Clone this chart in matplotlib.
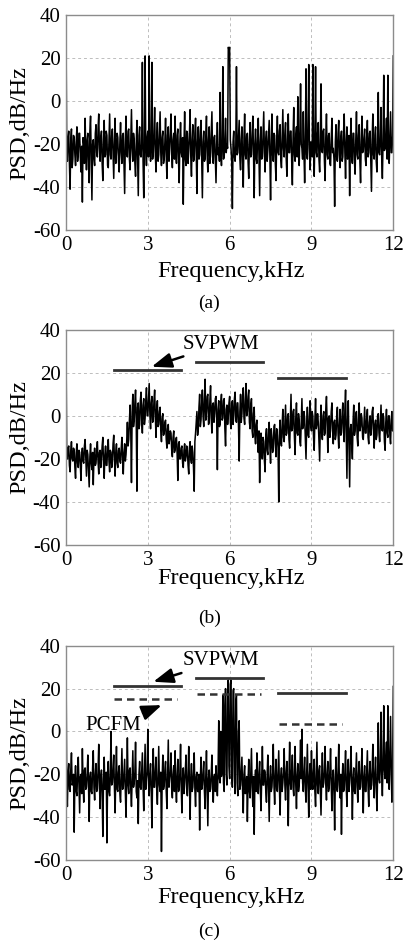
import numpy as np
import matplotlib
matplotlib.use("Agg")
import matplotlib.pyplot as plt

plt.rcParams['font.family'] = ['Liberation Serif', 'DejaVu Serif']
plt.rcParams['axes.unicode_minus'] = False

# Frequency span (kHz); samples are evenly spaced (0.025 kHz)
f_start, f_stop = 0.0, 12.0
xticks = [0, 3, 6, 9, 12]
yticks = [-60, -40, -20, 0, 20, 40]

# (a) PSD values, dB/Hz (one row per kHz)
psd_a = [
    35, -22, -28, -17, -14, -29, -41, -18, -13, -31, -27, -16, -17, -25, -30, -19, -12, -28, -24, -15, -15, -26, -33, -21, -47, -17, -20, -29, -8, -23, -32, -18, -15, -30, -38, -14, -7, -27, -46, -20,
    -18, -27, -30, -15, -11, -24, -26, -13, -6, -22, -28, -17, -14, -29, -37, -19, -9, -26, -25, -14, -16, -30, -31, -18, -6, -25, -27, -16, -13, -24, -36, -20, -8, -29, -24, -15, -17, -28, -33, -19,
    -10, -24, -29, -16, -15, -30, -43, -19, -7, -25, -26, -14, -13, -27, -32, -17, -4, -22, -28, -15, -18, -29, -35, -20, -9, -27, -44, -16, -12, -25, -26, -20, 18, -28, -45, -24, 21, -22, -30, -17,
    -14, -26, 21, -20, -28, -22, 18, -27, -24, -16, -3, -25, -33, -18, -10, -28, -25, -15, -5, -24, -30, -17, -14, -29, -27, -19, -8, -26, -36, -16, -12, -28, -22, -15, -6, -25, -31, -18, -15, -27,
    -7, -25, -29, -16, -13, -28, -38, -19, -10, -24, -26, -17, -48, -21, -5, -27, -30, -14, -15, -29, -23, -16, -4, -26, -35, -18, -11, -28, -27, -15, -8, -24, -43, -19, -12, -27, -25, -14, -9, -26,
    -45, -19, -14, -28, -27, -16, -7, -25, -33, -18, -12, -29, -24, -15, -5, -26, -29, -17, -16, -27, -38, -20, -10, -25, -22, -28, 4, -24, -30, -20, 16, -27, -26, -18, -8, -24, -20, -22, 25, 24,
    25, -18, -22, -28, -50, -19, -14, -26, -28, -21, 16, -25, -24, -16, -9, -27, -32, -18, -12, -29, -40, -17, -6, -25, -27, -16, -15, -28, -36, -19, -10, -26, -25, -15, -7, -24, -45, -20, -13, -27,
    -29, -17, -8, -25, -44, -19, -12, -27, -26, -15, -5, -24, -33, -18, -14, -28, -23, -16, -9, -26, -46, -20, -6, -25, -28, -15, -16, -29, -37, -18, -7, -24, -25, -14, -11, -27, -31, -17, -4, -22,
    -26, -15, -10, -27, -35, -18, -6, -24, -24, -14, -14, -28, -39, -17, -3, -25, -28, -16, -12, -26, 2, -23, -30, -14, 8, -20, -22, -27, -5, -24, -38, -18, 15, -25, -27, -13, 17, -22, -32, -19,
    -20, -26, 17, -22, -35, -18, 16, -24, -26, -15, -10, -27, -33, -19, 8, -23, -24, -14, -13, -28, -37, -17, -6, -25, -27, -16, -15, -29, -30, -18, -8, -24, -22, -27, -49, -19, -11, -26, -28, -15,
    -9, -25, -31, -17, -14, -28, -26, -15, -6, -24, -36, -19, -12, -27, -24, -16, -44, -20, -8, -26, -29, -15, -15, -28, -34, -18, -5, -25, -27, -16, -11, -28, -38, -19, -7, -24, -23, -17, -13, -27,
    -30, -17, -9, -26, -24, -15, -14, -28, -42, -18, -6, -25, -27, -16, -12, -28, -33, -20, 4, -24, -25, -18, -3, -26, -36, -19, 12, -23, -22, -16, -8, -27, 12, -22, -29, -17, -5, -24, -24, -16,
    21,
]

# (b) PSD values, dB/Hz
psd_b = [
    35, -17, -20, -15, -14, -23, -26, -16, -12, -20, -21, -15, -16, -24, -29, -17, -13, -22, -24, -16, -17, -23, -30, -18, -15, -21, -22, -14, -11, -20, -28, -16, -18, -25, -33, -19, -13, -22, -25, -17,
    -32, -19, -15, -23, -22, -16, -12, -21, -27, -17, -16, -24, -20, -14, -10, -22, -29, -18, -14, -23, -23, -15, -11, -21, -26, -16, -17, -24, -21, -13, -9, -20, -28, -17, -13, -22, -24, -16, -15, -21,
    -22, -15, -10, -20, -27, -17, -13, -21, -18, -12, -3, -14, -11, -2, 5, -8, -31, 2, 10, -5, -2, 6, 12, -3, -35, 4, 6, -6, -4, 7, 11, -2, -8, 5, 8, -4, -1, 7, 13, 0,
    0, 8, 15, 1, -6, 6, 9, -3, -2, 7, 12, 0, -10, 3, 7, -5, -4, 2, 4, -7, -12, -1, 1, -9, -8, -3, -2, -11, -15, -6, -4, -13, -11, -7, -8, -16, -19, -10, -7, -17,
    -16, -11, -10, -18, -30, -13, -12, -20, -20, -15, -14, -22, -24, -16, -13, -21, -19, -14, -16, -23, -27, -15, -12, -20, -22, -14, -17, -24, -35, -12, -8, -3, 2, -9, -6, 4, 10, -5, -2, 7,
    12, 0, -5, 8, 17, -2, 2, 9, 10, -4, -3, 7, 14, -1, -8, 5, 6, -3, 1, 8, 9, -2, -25, 3, 7, -5, -4, 6, 10, -2, -1, 7, 8, -6, -14, 3, 5, -4, 0, 6,
    9, -3, -6, 5, 7, -4, 0, 8, 11, -2, -3, 6, 6, -5, -21, 2, 10, -3, 1, 9, 13, -1, -4, 7, 15, 0, 2, 9, 12, -3, -6, 5, 8, -7, -10, 1, 4, -9, -13, -4,
    -2, -12, -17, -7, -31, -14, -8, -19, -20, -10, -12, -21, -26, -9, -6, -16, -18, -7, -3, -14, -22, -6, -10, -17, -15, -5, -4, -13, -19, -6, -9, -15, -40, -8, -2, -12, -14, -4, 3, -10,
    -12, -3, 5, -9, -8, 0, 1, -11, -15, -2, 10, -7, -6, 2, 3, -10, -18, -1, 6, -8, -9, 1, -2, -12, -14, -3, 8, -6, -5, 2, -1, -11, -20, -4, 4, -9, -10, 0, 7, -5,
    -7, 2, 0, -10, -16, -2, 8, -6, -4, 1, -3, -12, -21, -4, 5, -8, -11, 0, 2, -9, -8, 3, 9, -5, -17, -1, 0, -10, -6, 2, 6, -7, -13, -3, -2, -11, -9, 0, 4, -8,
    -15, -4, 3, -9, -8, 1, 6, -6, -12, 3, 12, -8, -29, -2, 7, -14, -33, -6, -4, -13, -20, -3, 5, -9, -7, 1, 2, -10, -14, -2, 6, -7, -5, 1, -1, -10, -11, -3, 4, -8,
    -8, -1, 3, -10, -13, -3, 0, -9, -6, 2, 4, -7, -15, -4, -2, -11, -9, 0, 1, -8, -12, -3, 5, -6, -7, 1, -1, -12, -16, -3, 3, -8, -10, 0, 0, -9, -13, -2, 2, -7,
    -6,
]

# (c) PSD values, dB/Hz
psd_c = [
    35, -24, -35, -19, -15, -27, -28, -18, -10, -25, -24, -20, -47, -22, -16, -28, -30, -19, -12, -26, -38, -21, -20, -29, -8, -24, -33, -18, -17, -27, -26, -20, -11, -25, -42, -21, -19, -28, -29, -17,
    -9, -26, -32, -20, -15, -28, -27, -18, -6, -24, -36, -21, -18, -29, -49, -22, -12, -27, -25, -19, -52, -23, -14, -28, -30, -20, 0, -25, -24, -18, -11, -26, -38, -21, -7, -27, -28, -19, -16, -29,
    -33, -21, -8, -27, -26, -19, -13, -28, -40, -20, -3, -25, -29, -18, -17, -27, -35, -22, -9, -26, -24, -19, -5, -28, -31, -23, -43, -20, -14, -26, -27, -18, -10, -25, -37, -21, -6, -27, -22, -19,
    1, -24, -30, -20, -15, -28, -45, -21, -8, -26, -26, -18, -12, -27, -34, -20, -7, -25, -28, -19, -56, -22, -11, -27, -25, -18, -14, -28, -36, -21, -4, -26, -22, -19, -10, -27, -31, -20, -16, -28,
    -9, -25, -33, -21, -13, -28, -27, -19, -6, -26, -38, -22, -17, -29, -24, -18, -11, -27, -30, -20, -7, -25, -41, -22, -15, -28, -26, -19, -10, -27, -35, -21, -19, -28, -28, -20, -46, -23, -12, -27,
    -25, -19, -14, -28, -36, -21, -9, -26, -44, -22, -18, -28, -27, -20, -11, -26, -33, -21, -20, -28, -16, -24, -30, -19, 5, -22, -24, 0, -21, -18, 17, -24, -28, 12, 20, -20, -25, 18, 24, -16,
    -22, 22, 24, -18, -26, 19, 20, -21, -29, 14, 17, -24, -30, 0, 5, -27, -25, -18, -12, -28, -38, -20, -16, -29, -27, -21, -42, -24, -13, -28, -31, -20, -8, -26, -35, -21, -48, -23, -18, -28,
    -10, -26, -29, -19, -14, -27, -37, -21, -7, -25, -25, -18, -19, -28, -33, -20, -11, -26, -42, -22, -16, -28, -26, -19, -6, -25, -34, -21, -13, -27, -28, -18, -9, -26, -39, -21, -17, -28, -24, -19,
    -8, -25, -32, -19, -14, -27, -44, -21, -5, -24, -27, -18, -11, -26, -30, -20, -7, -25, -36, -21, -15, -28, -25, -18, -4, -22, 1, -24, -28, -19, -12, -27, -33, -20, -6, -25, -40, -21, -15, -27,
    -9, -24, -27, -19, -13, -28, -35, -20, -5, -25, -29, -18, -16, -27, -39, -21, -10, -26, -24, -19, -7, -25, -32, -20, -14, -28, -26, -18, -8, -25, -37, -22, -18, -28, -46, -21, -12, -26, -28, -19,
    -6, -25, -31, -20, -48, -22, -15, -28, -27, -19, -9, -26, -35, -21, -13, -28, -24, -18, -7, -25, -41, -22, -17, -28, -29, -19, -10, -26, -33, -20, -14, -27, -26, -19, -8, -25, -38, -21, -16, -28,
    -28, -19, -9, -26, -35, -20, -14, -27, -25, -18, -6, -25, -31, -19, -12, -26, -37, -21, 4, -22, -24, -16, 9, -20, -30, -14, 12, -18, -22, -12, -5, -24, 12, -16, -27, -10, 7, -20, -33, -14,
    21,
]

# Envelope marker lines: (start kHz, end kHz, level dB)
svpwm_levels = [(1.76, 4.22, 21.3), (4.77, 7.23, 24.8), (7.78, 10.25, 17.8)]
pcfm_levels = [(1.76, 4.08, 15.2), (4.81, 7.14, 17.6), (7.81, 10.13, 3.6)]

# name, data, axes rect, xlabel baseline (fig frac), tag centre (fig frac)
panels = [
    ("(a)", psd_a, [0.1638, 0.7558, 0.8121, 0.2282], 0.7063, 0.6783),
    ("(b)", psd_b, [0.1638, 0.4214, 0.8121, 0.2286], 0.3800, 0.3440),
    ("(c)", psd_c, [0.1638, 0.0870, 0.8121, 0.2275], 0.0411, 0.0111),
]

fig = plt.figure(figsize=(4.03, 9.42), dpi=100)

arrow_kw = dict(arrowstyle='-|>,head_length=0.8,head_width=0.3',
                color='black', lw=1.8, shrinkA=0, shrinkB=0)

for name, psd, rect, xl_y, tag_y in panels:
    freq = np.linspace(f_start, f_stop, len(psd))
    ax = fig.add_axes(rect)
    ax.plot(freq, psd, color='black', lw=1.1)
    ax.set_xlim(0, 12)
    ax.set_ylim(-60, 40)
    ax.set_xticks(xticks)
    ax.set_yticks(yticks)
    ax.tick_params(length=0, labelsize=15, pad=4)
    ax.grid(True, color='#bdbdbd', ls=(0, (3, 3)), lw=0.7)
    for s in ax.spines.values():
        s.set_color('#8c8c8c')
        s.set_linewidth(1.0)
    ax.set_ylabel('PSD,dB/Hz', fontsize=17.5, labelpad=2)
    fig.text(0.5725, xl_y, 'Frequency,kHz', fontsize=17.5, ha='center', va='baseline')
    fig.text(0.519, tag_y, name, fontsize=14, ha='center', va='center')

    if name in ("(b)", "(c)"):
        for x0, x1, lvl in svpwm_levels:
            ax.plot([x0, x1], [lvl, lvl], color='#333333', lw=2.0)
        if name == "(b)":
            ax.annotate('SVPWM', xy=(3.14, 22.8), xytext=(4.28, 33.3),
                        fontsize=15, va='center', ha='left', arrowprops=arrow_kw)
        else:
            for x0, x1, lvl in pcfm_levels:
                ax.plot([x0, x1], [lvl, lvl], color='#333333', lw=1.8, ls=(0, (3, 2)))
            ax.annotate('SVPWM', xy=(3.2, 23.2), xytext=(4.28, 33.0),
                        fontsize=15, va='center', ha='left', arrowprops=arrow_kw)
            ax.annotate('PCFM', xy=(3.51, 12.3), xytext=(1.72, 3.0),
                        fontsize=15, va='center', ha='center', arrowprops=arrow_kw)

fig.savefig('out.png', dpi=100)
